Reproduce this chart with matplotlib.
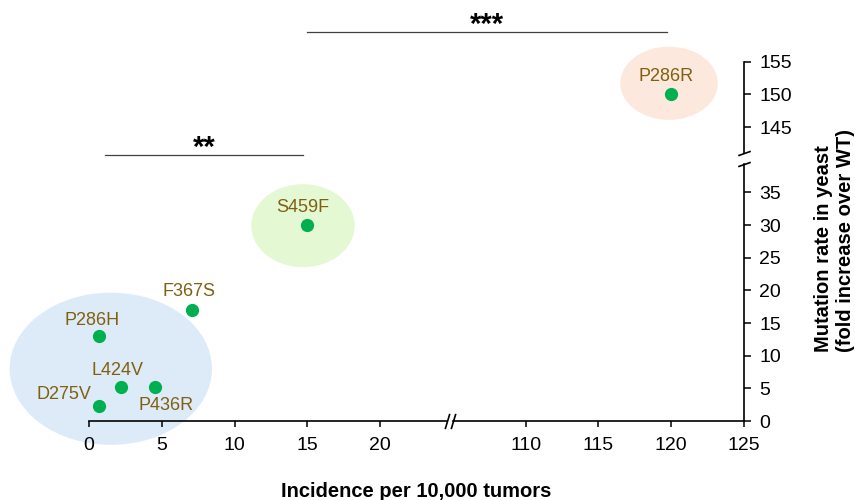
import numpy as np
import matplotlib.pyplot as plt
from matplotlib.patches import Ellipse

plt.rcParams['font.family'] = ['Liberation Sans', 'DejaVu Sans']

# data
mutants = ['P286R', 'S459F', 'F367S', 'P286H', 'L424V', 'P436R', 'D275V']
incidence = [120, 15, 7.1, 0.7, 2.2, 4.5, 0.7]
mutation_rate = [150, 30, 17, 13, 5.2, 5.2, 2.3]

x_ticks = [0, 5, 10, 15, 20, 110, 115, 120, 125]
y_ticks = [0, 5, 10, 15, 20, 25, 30, 35, 145, 150, 155]

# group highlights (centre x, centre y, width, height, colour)
group_x = [1.5, 14.7, 119.85]
group_y = [8.0, 29.9, 151.7]
group_w = [13.9, 7.1, 6.7]
group_h = [23.3, 12.7, 11.2]
group_colors = ['#ddebf8', '#e3f8d3', '#fce8dc']

# significance bars: (x start, x end, label, height in axes fraction)
sig_x0 = [1.1, 15]
sig_x1 = [14.7, 119.7]
sig_text = ['**', '***']
sig_level = [0.657, 0.961]

# label offsets in pixels (dx, dy) relative to each point
label_offsets = {
    'P286R': (-5, 18), 'S459F': (-5, 18), 'F367S': (-3, 18),
    'P286H': (-7, 16), 'L424V': (-4, 17), 'P436R': (12, -18),
    'D275V': (-35, 11),
}

X_BREAK = (24.6, 105, 0.4)
Y_BREAK = (39.3, 141, 1.7)


# piecewise linear scale that squeezes the range [lo, hi] into gap
def make_break(lo, hi, gap):
    def fwd(v):
        v = np.asarray(v, dtype=float)
        mid = lo + (v - lo) * gap / (hi - lo)
        return np.where(v <= lo, v, np.where(v >= hi, v - hi + lo + gap, mid))

    def inv(t):
        t = np.asarray(t, dtype=float)
        mid = lo + (t - lo) * (hi - lo) / gap
        return np.where(t <= lo, t, np.where(t >= lo + gap, t - lo - gap + hi, mid))
    return fwd, inv


fx, ix = make_break(*X_BREAK)

fig = plt.figure(figsize=(8.55, 5.0), dpi=100)
ax = fig.add_axes([89 / 855, 79 / 500, 655 / 855, 405 / 500])
ax.set_xscale('function', functions=make_break(*X_BREAK))
ax.set_yscale('function', functions=make_break(*Y_BREAK))
ax.set_xlim(0, 125)
ax.set_ylim(0, 162)

for cx, cy, w, h, c in zip(group_x, group_y, group_w, group_h, group_colors):
    ax.add_patch(Ellipse((cx, cy), w, h, facecolor=c, edgecolor='none',
                         zorder=0, clip_on=False))

ax.plot(incidence, mutation_rate, 'o', color='#00b050', markersize=8.5,
        zorder=3, clip_on=False)

for name, x, y in zip(mutants, incidence, mutation_rate):
    dx, dy = label_offsets[name]
    ax.annotate(name, (x, y), xytext=(dx, dy), textcoords='offset pixels',
                ha='center', va='center', fontsize=13, color='#806010')

# axis lines with breaks
for spine in ax.spines.values():
    spine.set_visible(False)
lo, hi, _ = X_BREAK
ax.plot([0, lo], [0, 0], color='k', lw=1.2, clip_on=False)
ax.plot([hi, 125], [0, 0], color='k', lw=1.2, clip_on=False)
ax.plot([lo, hi], [0, 0], marker=[(-0.3, -1), (0.3, 1)], markersize=11,
        ls='none', mec='k', mfc='none', mew=1.2, clip_on=False)
lo, hi, _ = Y_BREAK
ax.plot([125, 125], [0, lo], color='k', lw=1.2, clip_on=False)
ax.plot([125, 125], [hi, 155], color='k', lw=1.2, clip_on=False)
ax.plot([125, 125], [lo, hi], marker=[(-1, -0.35), (1, 0.35)], markersize=9,
        ls='none', mec='k', mfc='none', mew=1.2, clip_on=False)

ax.yaxis.tick_right()
ax.set_xticks(x_ticks)
ax.set_yticks(y_ticks)
ax.set_xticklabels([str(t) for t in x_ticks])
ax.set_yticklabels([str(t) for t in y_ticks])
ax.tick_params(axis='x', direction='out', length=4.5, width=1.1, pad=7,
               labelsize=14)
ax.tick_params(axis='y', direction='out', length=5, width=1.1, pad=6,
               labelsize=14)

# significance bars
trans = ax.get_xaxis_transform()
for x0, x1, txt, lvl in zip(sig_x0, sig_x1, sig_text, sig_level):
    ax.plot([x0, x1], [lvl, lvl], color='#404040', lw=0.9, transform=trans,
            clip_on=False)
    xm = float(ix((fx(x0) + fx(x1)) / 2))
    ax.text(xm, lvl - 0.003, txt, transform=trans, ha='center', va='baseline',
            fontsize=21, fontweight='bold')

fig.text(416 / 855, (500 - 491.7) / 500, 'Incidence per 10,000 tumors',
         ha='center', va='center', fontsize=14.5, fontweight='bold')
fig.text(834.5 / 855, (500 - 352) / 500,
         'Mutation rate in yeast\n(fold increase over WT)',
         rotation=90, ha='center', va='bottom', multialignment='left',
         linespacing=1.15, fontsize=14.5, fontweight='bold')

fig.savefig('out.png', dpi=100)
